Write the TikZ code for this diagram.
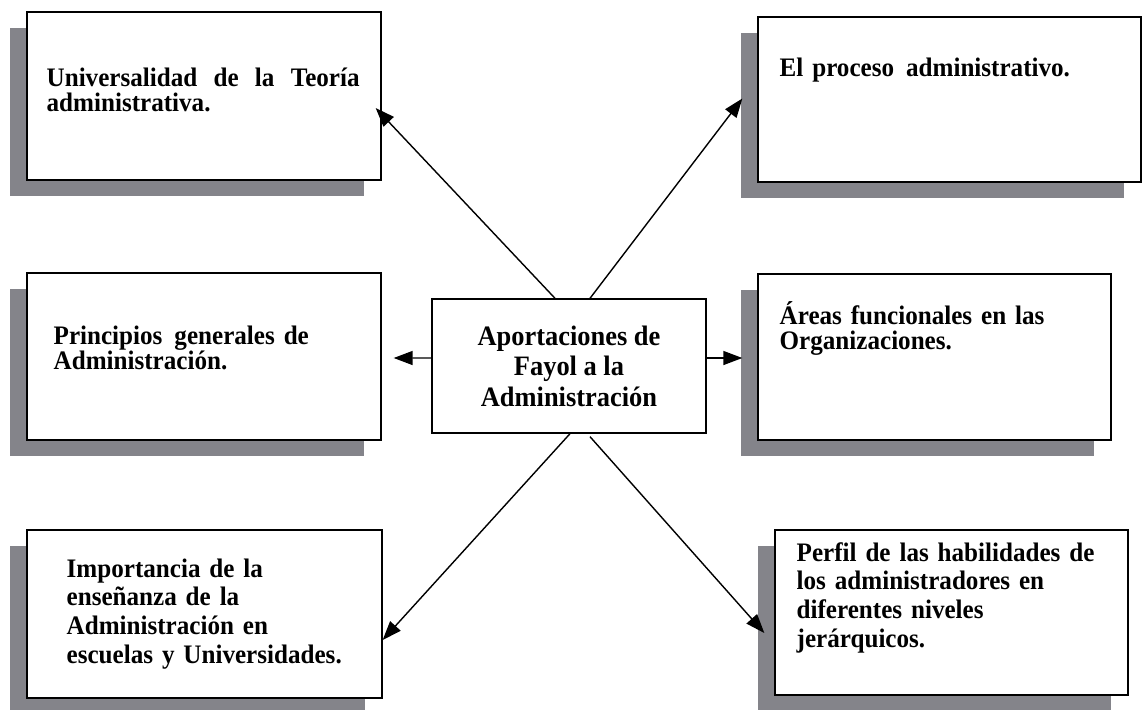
\documentclass[tikz,border=0pt]{standalone}
\usepackage{fontspec}
\setmainfont{Liberation Serif}[FakeStretch=0.94]
\usetikzlibrary{arrows.meta,shadows}
\definecolor{sombra}{RGB}{132,132,138}

\begin{document}
\begin{tikzpicture}[x=0.02cm, y=-0.02cm]
   \tikzstyle{caja} = [draw=black, line width=0.8pt, fill=white, inner sep=0pt,
                       drop shadow={shadow xshift=-0.34cm, shadow yshift=-0.32cm,
                                    fill=sombra, opacity=1}];
   \tikzstyle{txt} = [inner sep=0pt, anchor=base west, text width=6.6cm,
                      align=left,
                      font=\bfseries\fontsize{15.2pt}{14.5pt}\selectfont];
   \tikzstyle{txt2} = [txt, font=\bfseries\fontsize{15.2pt}{16.3pt}\selectfont];
   \tikzstyle{arr} = [black, line width=0.8pt,
                      -{Triangle[length=3.8mm, width=2.8mm]}];

   \useasboundingbox (0,0) rectangle (1143,710);

    \node[caja, minimum width=7.08cm, minimum height=3.36cm] (b1) at (204,96) {};
    \node[caja, minimum width=7.66cm, minimum height=3.30cm] (b2) at (949.5,99.5) {};
    \node[caja, minimum width=7.08cm, minimum height=3.34cm] (b3) at (204,356.5) {};
    \node[caja, minimum width=7.06cm, minimum height=3.32cm] (b4) at (934.5,357) {};
    \node[caja, minimum width=7.10cm, minimum height=3.36cm] (b5) at (204.5,614) {};
    \node[caja, minimum width=7.06cm, minimum height=3.30cm] (b6) at (951.5,612.5) {};

    \node[draw=black, line width=0.8pt, fill=white, align=center,
          minimum width=5.48cm, minimum height=2.68cm,
          font=\bfseries\fontsize{16pt}{17.3pt}\selectfont] (c) at (569,366)
          {Aportaciones de\\ Fayol a la\\ Administración};

    %% textos de las cajas
    \node[txt, text width=6.26cm, align=justify] (t1)
        at ([shift={(20,75)}]b1.north west)
        {Universalidad de la Teoría administrativa.};
    \node[txt] (t2) at ([shift={(22,60)}]b2.north west)
        {El proceso\hspace{0.45em}administrativo.};
    \node[txt] (t3) at ([shift={(27,72)}]b3.north west)
        {Principios\hspace{0.45em}generales de\\ Administración.};
    \node[txt] (t4) at ([shift={(22,51)}]b4.north west)
        {Áreas funcionales en las\\ Organizaciones.};
    \node[txt2] (t5) at ([shift={(40,48)}]b5.north west)
        {Importancia de la\\ enseñanza de la\\ Administración en\\
         escuelas y Universidades.};
    \node[txt2] (t6) at ([shift={(22,32)}]b6.north west)
        {Perfil de las habilidades de\\ los administradores en\\
         diferentes niveles\\ jerárquicos.};

    \draw[arr] ([shift={(-14,0)}]c.north) -- ([shift={(-6,12)}]b1.east);
    \draw[arr] ([shift={(21,0)}]c.north) -- ([shift={(-15,-1)}]b2.west);
    \draw[arr] ([shift={(0,-8)}]c.west) -- ([shift={(12,1.5)}]b3.east);
    \draw[arr] ([shift={(0,-8)}]c.east) -- ([shift={(-15,1)}]b4.west);
    \draw[arr] ([shift={(1,0)}]c.south) -- ([shift={(0,26)}]b5.east);
    \draw[arr] ([shift={(21,3)}]c.south) -- ([shift={(-10,20.5)}]b6.west);

  \end{tikzpicture}
\end{document}
